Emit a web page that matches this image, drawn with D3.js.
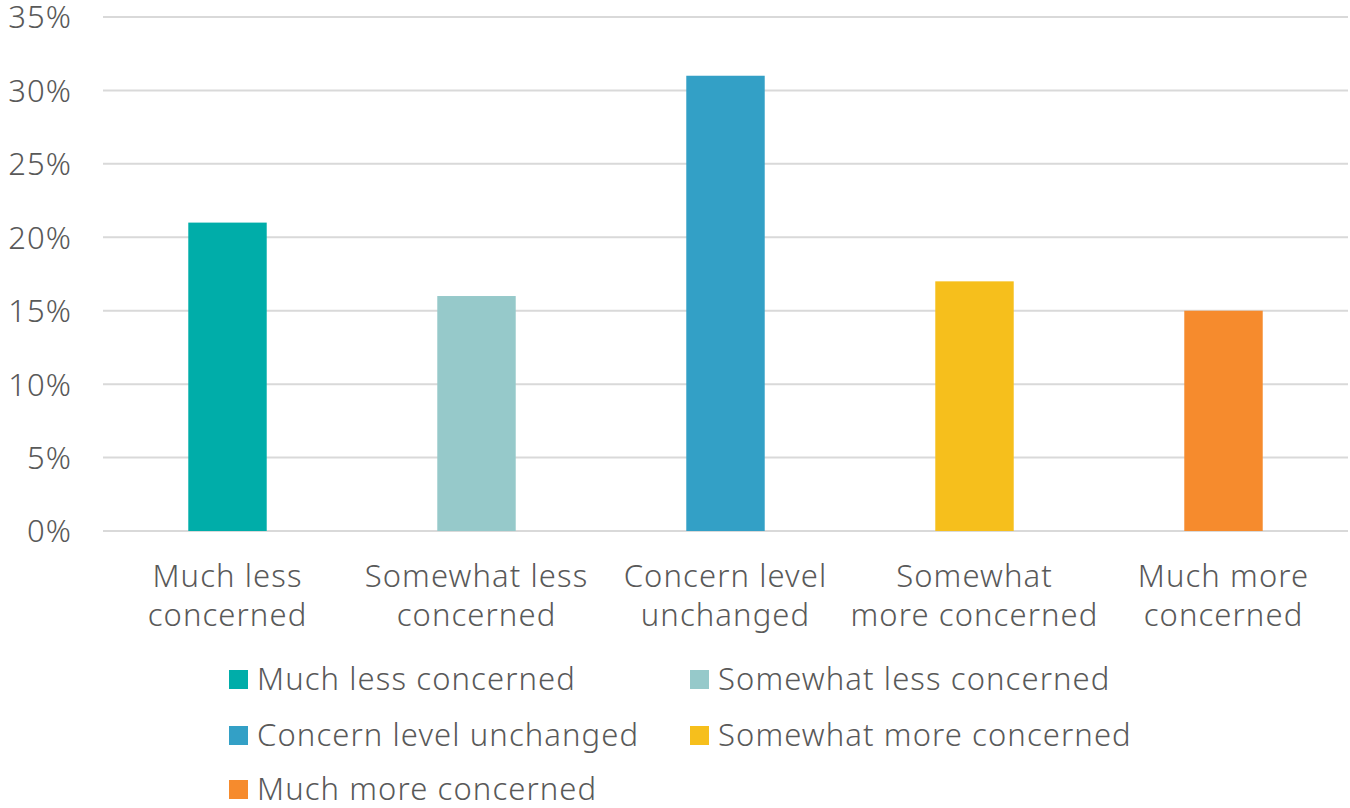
<!DOCTYPE html>
<html>
<head>
<meta charset="utf-8">
<script src="https://cdn.jsdelivr.net/npm/d3@7/dist/d3.min.js"></script>
<style>
  body { margin: 0; background: #fff; }
  svg { display: block; }
  text { font-family: "Noto Sans", Lato, sans-serif; fill: #595959; font-weight: 300; letter-spacing: 1.1px; }
</style>
</head>
<body>
<svg id="chart" width="1350" height="808"></svg>
<script>
// Share of respondents by change in concern level
const categories = [
  "Much less concerned",
  "Somewhat less concerned",
  "Concern level unchanged",
  "Somewhat more concerned",
  "Much more concerned"
];
const axisLabelLines = [
  ["Much less", "concerned"],
  ["Somewhat less", "concerned"],
  ["Concern level", "unchanged"],
  ["Somewhat", "more concerned"],
  ["Much more", "concerned"]
];
const values = [21, 16, 31, 17, 15];
const colors = ["#00ada9", "#96c9ca", "#33a0c6", "#f6bf1c", "#f68b2d"];
const yTicks = [0, 5, 10, 15, 20, 25, 30, 35];

const svg = d3.select("#chart");
const margin = { left: 103, right: 2, top: 17, bottom: 277 };
const W = 1350, H = 808;

const x = d3.scaleBand()
  .domain(categories)
  .range([margin.left, W - margin.right])
  .paddingInner(0.685)
  .paddingOuter(0.3425);

const y = d3.scaleLinear()
  .domain([0, 35])
  .range([H - margin.bottom, margin.top]);

// Gridlines
svg.append("g")
  .selectAll("line")
  .data(yTicks)
  .join("line")
  .attr("x1", margin.left)
  .attr("x2", W - margin.right)
  .attr("y1", d => y(d))
  .attr("y2", d => y(d))
  .attr("stroke", "#d9d9d9")
  .attr("stroke-width", 2);

// Y axis labels
const yAxis = d3.axisLeft(y)
  .tickValues(yTicks)
  .tickFormat(d => d + "%")
  .tickSize(0)
  .tickPadding(31);
const yg = svg.append("g")
  .attr("transform", `translate(${margin.left},0)`)
  .call(yAxis);
yg.select(".domain").remove();
yg.selectAll("text")
  .style("font-size", "31px")
  .style("font-family", "'Noto Sans', Lato, sans-serif")
  .style("font-weight", 300)
  .attr("dy", "0.35em")
  .attr("fill", "#595959");

// Bars
svg.append("g")
  .selectAll("rect")
  .data(values)
  .join("rect")
  .attr("x", (d, i) => x(categories[i]))
  .attr("width", x.bandwidth())
  .attr("y", d => y(d))
  .attr("height", d => y(0) - y(d))
  .attr("fill", (d, i) => colors[i]);

// X axis category labels (two lines each)
const xl = svg.append("g")
  .selectAll("text")
  .data(axisLabelLines)
  .join("text")
  .attr("text-anchor", "middle")
  .attr("x", (d, i) => x(categories[i]) + x.bandwidth() / 2)
  .attr("y", 587)
  .style("font-size", "31px");
xl.selectAll("tspan")
  .data(d => d)
  .join("tspan")
  .attr("x", function() { return d3.select(this.parentNode).attr("x"); })
  .attr("dy", (d, i) => i === 0 ? 0 : 39)
  .text(d => d);

// Legend
const legendCols = [229, 690];
const legendRows = [680, 736, 790];
const lg = svg.append("g")
  .selectAll("g")
  .data(categories)
  .join("g")
  .attr("transform", (d, i) => `translate(${legendCols[i % 2]},${legendRows[Math.floor(i / 2)]})`);
lg.append("rect")
  .attr("x", 0)
  .attr("y", -10)
  .attr("width", 19)
  .attr("height", 19)
  .attr("fill", (d, i) => colors[i]);
lg.append("text")
  .attr("x", 28)
  .attr("y", 10)
  .style("font-size", "31px")
  .text(d => d);
</script>
</body>
</html>
